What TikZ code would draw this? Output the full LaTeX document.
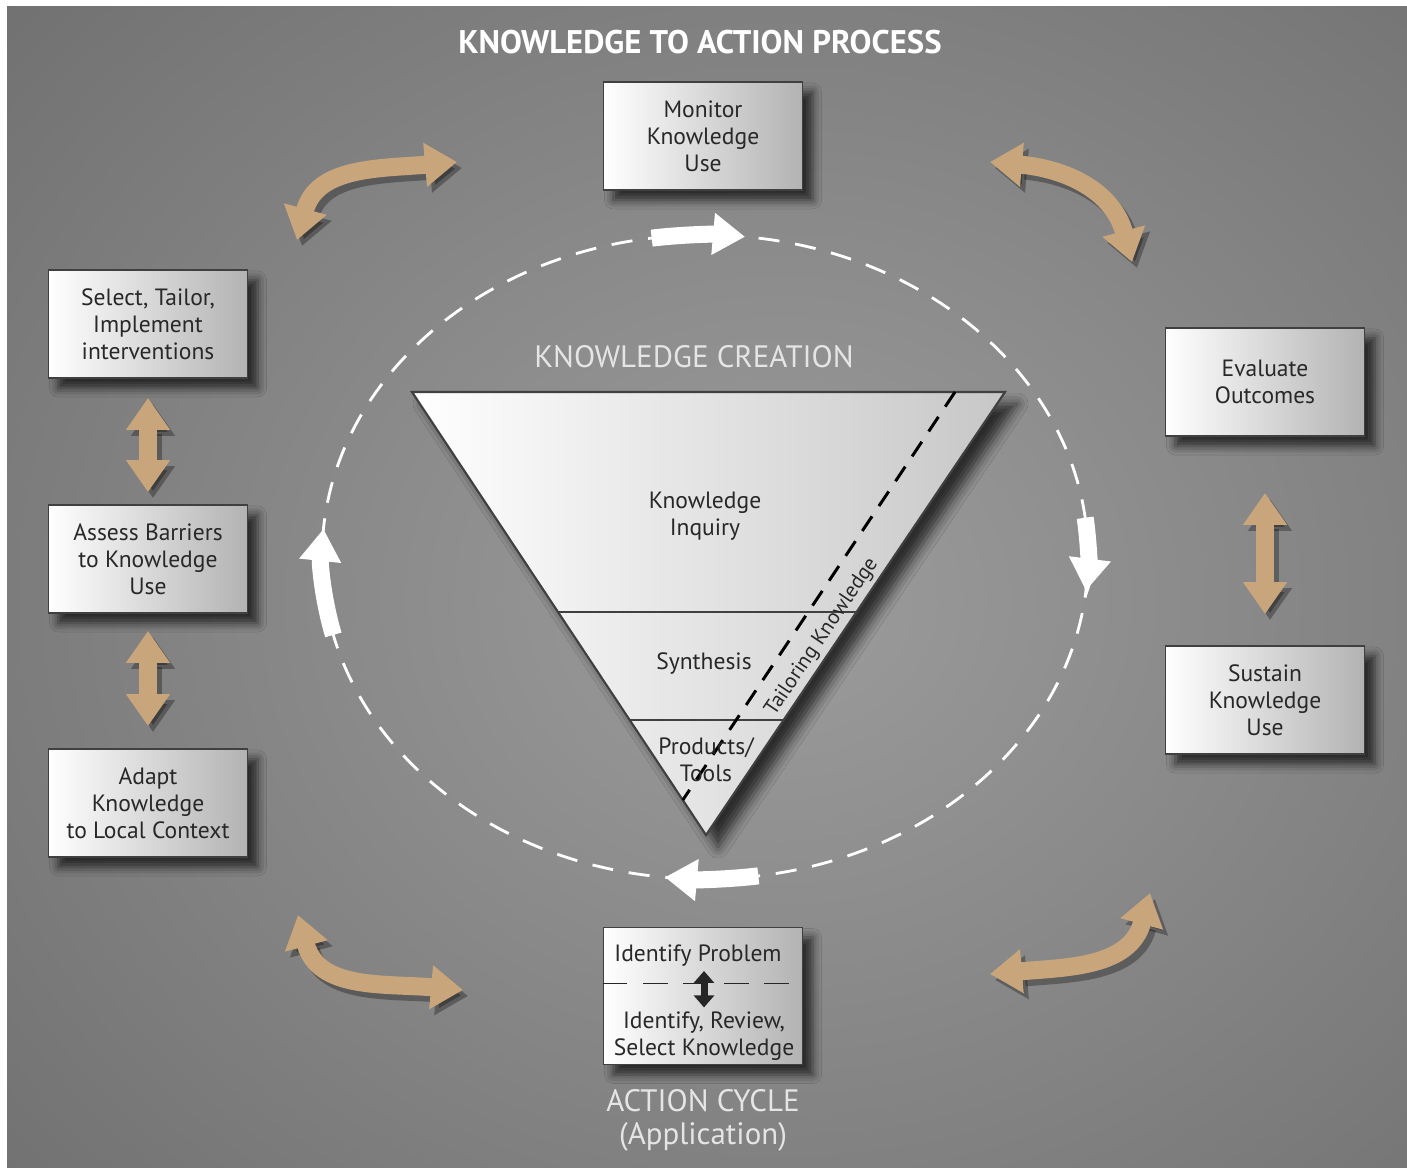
\documentclass[tikz,border=0pt]{standalone}
\usepackage{fontspec}
\setmainfont{PT Sans}
\usetikzlibrary{arrows.meta,positioning,calc,shadows.blur}
\definecolor{bgdark}{RGB}{94,94,94}
\definecolor{bglight}{RGB}{156,156,156}
\definecolor{tanarrow}{RGB}{201,165,124}
\definecolor{boxtext}{RGB}{40,40,40}

\tikzset{
  box/.style={draw=black!75, line width=0.5pt, left color=white, right color=black!30,
    minimum width=1.99cm, minimum height=1.08cm, align=center, text=boxtext,
    font=\fontsize{6.7}{7.7}\selectfont,
    blur shadow={shadow xshift=0.1cm, shadow yshift=-0.1cm, shadow blur radius=0.09cm, shadow opacity=70}},
  txt/.style={align=center, text=boxtext, inner sep=1pt, font=\fontsize{6.7}{7.7}\selectfont},
  heading/.style={align=center, text=black!10, font=\fontsize{8.8}{9.3}\selectfont},
  tri/.style={draw=black!75, line width=0.6pt, left color=white, right color=black!22,
    blur shadow={shadow xshift=0.12cm, shadow yshift=-0.12cm, shadow blur radius=0.11cm, shadow opacity=70}},
  ring/.style={white, line width=0.8pt, dash pattern=on 6pt off 4.5pt},
  flow/.style={white, line width=0.17cm, -{Triangle[width=0.4cm,length=0.32cm]}},
  tanarr/.style={draw=tanarrow, line width=0.18cm, {Triangle[width=0.42cm,length=0.32cm]}-{Triangle[width=0.42cm,length=0.32cm]}},
  tanshade/.style={tanarr, draw=black, opacity=0.3, transform canvas={xshift=0.05cm,yshift=-0.06cm}}
}

\begin{document}
\begin{tikzpicture}[x=0.01cm,y=0.01cm]
\useasboundingbox (0,0) rectangle (1407,-1167);
\fill[bgdark] (7,-7) rectangle (1407,-1167);
\begin{scope}
\clip (7,-7) rectangle (1407,-1167);
\shade[inner color=bglight, outer color=bgdark] (780,-600) ellipse[x radius=1500, y radius=1300];
\end{scope}

\node[text=white, font=\bfseries\fontsize{9.3}{11}\selectfont] (ttl) at (700,-42) {KNOWLEDGE TO ACTION PROCESS};

\coordinate (cen) at (705,-557);
\draw[ring] (cen) ellipse[x radius=383, y radius=322];
\draw[flow] (cen) ++(98:383 and 322) arc[start angle=98, end angle=84, x radius=383, y radius=322];
\draw[flow] (cen) ++(7:383 and 322) arc[start angle=7, end angle=-6, x radius=383, y radius=322];
\draw[flow] (cen) ++(-82:383 and 322) arc[start angle=-82, end angle=-96, x radius=383, y radius=322];
\draw[flow] (cen) ++(194:383 and 322) arc[start angle=194, end angle=175, x radius=383, y radius=322];

\node[heading] (kc) at (694,-357) {KNOWLEDGE CREATION};
\coordinate (tl) at (412,-392);
\coordinate (tr) at (1005,-392);
\coordinate (ap) at (706,-835);
\draw[tri] (tl) -- (tr) -- (ap) -- cycle;
\draw[black!75, line width=0.6pt] ($(tl)!0.497!(ap)$) -- ($(tr)!0.497!(ap)$);
\draw[black!75, line width=0.6pt] ($(tl)!0.740!(ap)$) -- ($(tr)!0.740!(ap)$);
\draw[black, line width=0.85pt, dash pattern=on 5pt off 3.5pt] (955,-392) -- ($(tl)!0.921!(ap)$);
\node[txt] (inq) at (705,-516) {Knowledge\\Inquiry};
\node[txt] (syn) at (704,-664) {Synthesis};
\node[txt] (prd) at (706,-760) {Products/\\Tools};
\node[txt, rotate=56, font=\fontsize{6}{7}\selectfont] (tlk) at (822,-637) {Tailoring Knowledge};

\node[box] (mon) at (703,-136) {Monitor\\Knowledge\\Use};
\node[box] (sel) at (148,-324) {Select, Tailor,\\Implement\\interventions};
\node[box] (ass) at (148,-559) {Assess Barriers\\to Knowledge\\Use};
\node[box] (adp) at (148,-803) {Adapt\\Knowledge\\to Local Context};
\node[box] (evo) at (1265,-382) {Evaluate\\Outcomes};
\node[box] (sus) at (1265,-700) {Sustain\\Knowledge\\Use};
\node[box, minimum height=1.37cm] (idf) at (703,-996) {};
\node[txt] (idp) at (698,-956) {Identify Problem};
\node[txt] (isk) at (704,-1036) {Identify, Review,\\Select Knowledge};
\draw[black!85, line width=0.45pt, dash pattern=on 7pt off 4.5pt] ([yshift=0.125cm]idf.west) -- ([yshift=0.125cm]idf.east);
\draw[black!85, line width=0.07cm, {Triangle[width=0.2cm,length=0.12cm]}-{Triangle[width=0.2cm,length=0.12cm]}] (idp.south -| isk) -- (isk.north);
\node[heading, below=0.12cm of idf] (act) {ACTION CYCLE\\(Application)};

\draw[tanshade, shorten <=0.19cm, shorten >=0.12cm] (sel) -- (ass);
\draw[tanarr, shorten <=0.19cm, shorten >=0.12cm] (sel) -- (ass);
\draw[tanshade, shorten <=0.17cm, shorten >=0.22cm] (ass) -- (adp);
\draw[tanarr, shorten <=0.17cm, shorten >=0.22cm] (ass) -- (adp);
\draw[tanshade, shorten <=0.56cm, shorten >=0.31cm] (evo) -- (sus);
\draw[tanarr, shorten <=0.56cm, shorten >=0.31cm] (evo) -- (sus);

\coordinate (tla) at (297,-240); \coordinate (tlb) at (457,-162);
\coordinate (tra) at (1132,-262); \coordinate (trb) at (990,-162);
\coordinate (bra) at (1150,-893); \coordinate (brb) at (990,-974);
\coordinate (bla) at (298,-915); \coordinate (blb) at (463,-990);
\draw[tanshade] (tla) to[out=75,in=185,looseness=1.1] (tlb);
\draw[tanarr] (tla) to[out=75,in=185,looseness=1.1] (tlb);
\draw[tanshade] (tra) to[out=105,in=-5,looseness=1.1] (trb);
\draw[tanarr] (tra) to[out=105,in=-5,looseness=1.1] (trb);
\draw[tanshade] (bra) to[out=-105,in=5,looseness=1.1] (brb);
\draw[tanarr] (bra) to[out=-105,in=5,looseness=1.1] (brb);
\draw[tanshade] (bla) to[out=-75,in=175,looseness=1.1] (blb);
\draw[tanarr] (bla) to[out=-75,in=175,looseness=1.1] (blb);
\end{tikzpicture}
\end{document}
